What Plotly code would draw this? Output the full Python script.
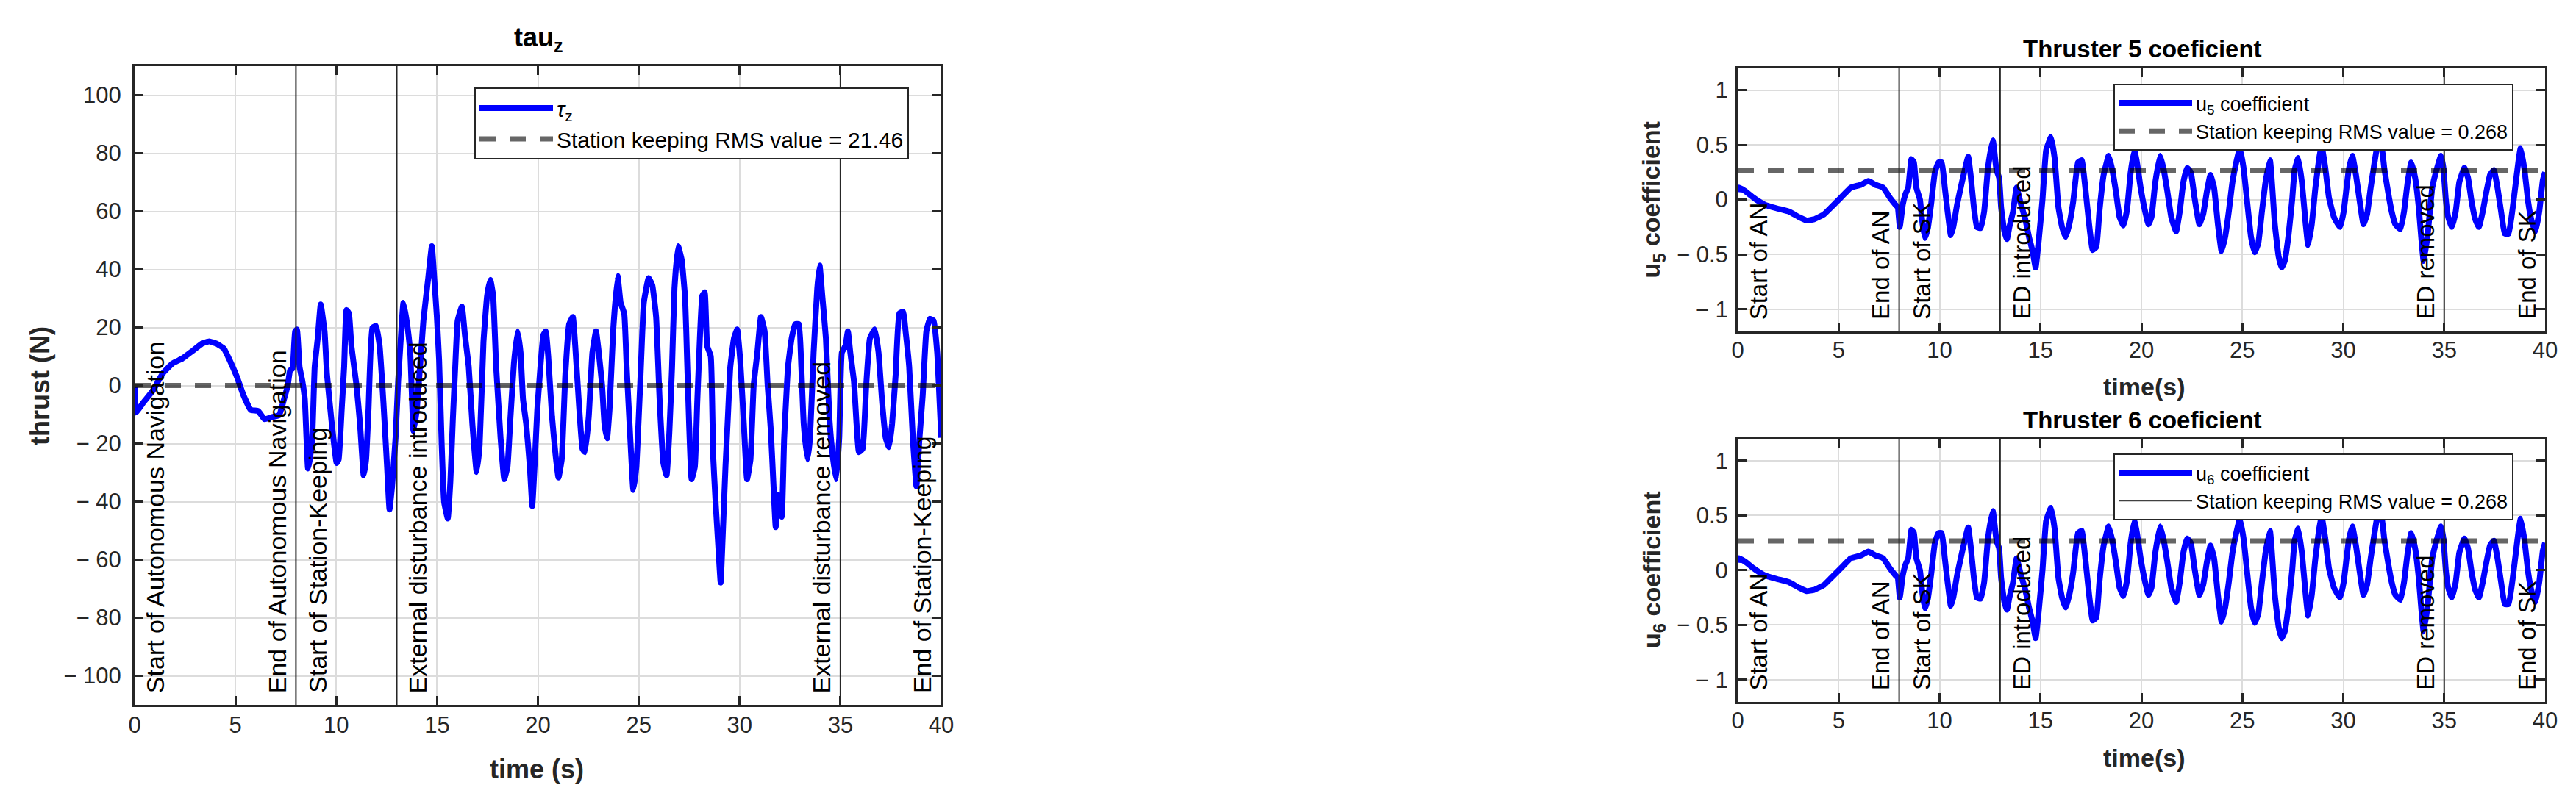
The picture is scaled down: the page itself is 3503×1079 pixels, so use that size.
import plotly.graph_objects as go

# ---------------- data ----------------
tau_t = [0, 0.06, 0.43, 0.91, 1.4, 1.88, 2.37, 2.85, 3.34, 3.7, 4.07, 4.43, 4.79, 5.1, 5.4, 5.76,
         6.13, 6.44, 6.86, 7.17, 7.41, 7.6, 7.71, 7.83, 7.96, 8.05, 8.18, 8.32, 8.44, 8.6, 8.69,
         8.81, 8.93, 9.08, 9.23, 9.42, 9.54, 9.78, 10.02, 10.12, 10.27, 10.39, 10.51, 10.63, 10.75,
         11.0, 11.18, 11.36, 11.48, 11.6, 11.79, 11.97, 12.15, 12.34, 12.52, 12.64, 12.76, 12.94,
         13.07, 13.19, 13.33, 13.49, 13.67, 13.83, 14.0, 14.32, 14.56, 14.74, 14.87, 14.99, 15.1,
         15.23, 15.35, 15.53, 15.66, 15.78, 15.9, 16.02, 16.23, 16.38, 16.57, 16.75, 16.96, 17.11,
         17.3, 17.48, 17.64, 17.78, 17.93, 18.15, 18.33, 18.49, 18.63, 18.81, 18.99, 19.14, 19.26,
         19.42, 19.6, 19.72, 19.85, 19.97, 20.15, 20.27, 20.39, 20.51, 20.7, 20.88, 21.02, 21.18,
         21.36, 21.55, 21.73, 21.85, 22.03, 22.21, 22.33, 22.52, 22.7, 22.88, 23.0, 23.18, 23.3,
         23.43, 23.55, 23.73, 23.95, 24.1, 24.28, 24.4, 24.58, 24.73, 24.88, 25.07, 25.25, 25.49,
         25.67, 25.86, 26.04, 26.22, 26.38, 26.52, 26.65, 26.77, 26.95, 27.13, 27.3, 27.4, 27.5,
         27.62, 27.78, 27.9, 28.03, 28.15, 28.27, 28.39, 28.57, 28.69, 28.81, 28.94, 29.06, 29.18,
         29.3, 29.42, 29.54, 29.72, 29.88, 30.03, 30.21, 30.37, 30.54, 30.7, 30.88, 31.06, 31.24,
         31.39, 31.55, 31.67, 31.79, 31.91, 32.09, 32.21, 32.4, 32.58, 32.76, 32.94, 33.06, 33.18,
         33.37, 33.49, 33.67, 33.85, 33.97, 34.1, 34.28, 34.46, 34.64, 34.79, 34.94, 35.07, 35.25,
         35.37, 35.49, 35.67, 35.8, 35.92, 36.1, 36.28, 36.46, 36.7, 36.89, 37.07, 37.25, 37.41,
         37.56, 37.74, 37.92, 38.11, 38.23, 38.41, 38.59, 38.77, 38.92, 39.08, 39.26, 39.44, 39.62,
         39.8, 39.92, 40.0]
tau_v = [0, -9.3, -5.9, -1.7, 4.2, 7.6, 9.3, 11.8, 14.4, 15.2, 14.4, 12.7, 7.6, 2.5, -3.4, -8.4,
         -8.8, -11.6, -10.8, -10.2, -4.7, 0.2, 5.2, 5.8, 18.6, 19.3, 6.4, 1.5, -4.7, -28.6, -25.5,
         -18, 6.4, 16.2, 27.9, 18.7, 3.9, -13.3, -26.7, -25.5, -8.3, 6.4, 26, 24.8, 13.7,
         0.2, -13.3, -31, -25.5, -8.3, 19.9, 20.5, 13.7, -5.9, -28, -42.7, -35.3, -18.2,
         1.5, 15, 28.5, 22.3, 11.3, -15.7, -8, 22.3, 37, 48, 35.8, 23.6, 8.8,
         -20.6, -40.2, -45.8, -32.9, -12, 6.4, 22.3, 27.2, 17.4, 6.4, -13.3, -29.8, -20.6,
         15, 30.9, 36.4, 30.9, 6.4, -18.2, -32.3, -28, -12, 7.6, 18.7, 11.3, -4.7,
         -13.3, -28, -41.5, -25.5, -8.3, 8.8, 17.4, 18.7, 10.1, -10.8, -24.3, -31.7, -25.5,
         3.9, 21.1, 23.6, 13.7, -5.9, -21.8, -23, -10.8, 11.3, 18.7, 12.5, 0.2, -13.3,
         -18.2, -8.3, 18.7, 37.7, 28.5, 24.8, 6.4, -18.2, -36, -28, 0.2, 28.5, 37,
         34.6, 23.6, -5.9, -26.7, -31, -15.7, 6.4, 33.4, 48, 43.2, 30, 8, -14,
         -32.3, -28, -5.9, 16.2, 30.9, 32.1, 13.7, 10.1, -24.3, -40.2, -55, -67.9, -48.8,
         -28, -10.8, 6.4, 16.2, 19.3, 8.8, -13.3, -32.3, -25.5, 0.2, 11.3, 23.6, 18.7,
         0.2, -15.7, -32.9, -48.8, -37.8, -45.2, -18.2, 6.4, 16.2, 21.1, 21.1, 6.4, -13.3,
         -25.5, -18.2, 11.3, 33.4, 41.3, 30.9, 16.2, -12, -25.5, -32.3, -18.2, 11.3, 13.7,
         18.7, 11.3, 1.5, -13.3, -23, -21.8, 0.2, 16.2, 19.3, 11.3, -5.9, -18.2, -21.2,
         -13.3, 3.9, 24.8, 25.4, 18.7, 6.4, -18.2, -34.7, -18.2, -3.4, 18.7, 23, 22.3,
         11.3, -5.9, -18]

u_t = [0, 0.05, 0.35, 0.84, 1.33, 1.94, 2.55, 3.04, 3.41, 3.78, 4.27, 4.63, 5.12, 5.61, 6.1, 6.47,
       6.83, 7.2, 7.57, 7.81, 7.93, 8.03, 8.18, 8.3, 8.45, 8.61, 8.73, 8.85, 9.03, 9.16, 9.28,
       9.43, 9.58, 9.77, 9.95, 10.11, 10.26, 10.4, 10.56, 10.68, 10.87, 11.11, 11.3, 11.42, 11.54,
       11.7, 11.85, 12.03, 12.21, 12.4, 12.64, 12.82, 12.95, 13.05, 13.21, 13.34, 13.46, 13.64,
       13.82, 14.0, 14.25, 14.43, 14.61, 14.76, 14.91, 15.1, 15.28, 15.52, 15.7, 15.89, 16.07,
       16.25, 16.43, 16.62, 16.86, 17.04, 17.22, 17.41, 17.59, 17.77, 17.92, 18.13, 18.38, 18.56,
       18.74, 18.92, 19.11, 19.29, 19.47, 19.65, 19.78, 19.96, 20.14, 20.35, 20.5, 20.69, 20.93,
       21.11, 21.29, 21.48, 21.72, 21.9, 22.08, 22.27, 22.45, 22.63, 22.87, 23.06, 23.24, 23.42,
       23.6, 23.79, 23.97, 24.15, 24.33, 24.51, 24.7, 24.88, 25.06, 25.24, 25.43, 25.61, 25.79,
       25.97, 26.15, 26.37, 26.61, 26.8, 26.95, 27.1, 27.28, 27.47, 27.59, 27.77, 27.95, 28.14,
       28.26, 28.44, 28.62, 28.81, 28.93, 29.11, 29.29, 29.54, 29.84, 30.02, 30.27, 30.45, 30.63,
       30.82, 31.0, 31.18, 31.36, 31.55, 31.73, 31.91, 32.03, 32.22, 32.4, 32.58, 32.83, 33.01,
       33.19, 33.37, 33.56, 33.74, 33.86, 33.98, 34.17, 34.41, 34.65, 34.84, 34.96, 35.08, 35.2,
       35.38, 35.57, 35.75, 36.0, 36.18, 36.36, 36.54, 36.72, 36.91, 37.09, 37.27, 37.46, 37.64,
       37.82, 38.0, 38.19, 38.37, 38.55, 38.7, 38.79, 38.98, 39.16, 39.34, 39.53, 39.71, 39.89,
       40.0]
u5_v = [0.07, 0.11, 0.08, 0.01, -0.045, -0.08, -0.11, -0.16, -0.19, -0.18, -0.135, -0.07, 0.02,
        0.11, 0.135, 0.17, 0.135, 0.11, 0.01, -0.045, -0.07, -0.25, -0.045, 0.045, 0.11, 0.37,
        0.34, 0.11, 0.0, -0.225, -0.35, -0.25, -0.045, 0.25, 0.34, 0.34, 0.11, -0.11, -0.325,
        -0.25, -0.045, 0.16, 0.31, 0.39, 0.225, -0.07, -0.25, -0.26, -0.11, 0.29, 0.54, 0.27,
        0.2, -0.07, -0.29, -0.36, -0.25, -0.11, 0.11, -0.02, -0.18, -0.34, -0.47, -0.62, -0.38,
        0.0, 0.45, 0.57, 0.38, -0.07, -0.25, -0.34, -0.225, -0.02, 0.34, 0.36, 0.11, -0.225,
        -0.46, -0.43, -0.11, 0.225, 0.4, 0.27, 0.07, -0.16, -0.235, -0.09, 0.25, 0.45, 0.34,
        0.11, -0.07, -0.225, -0.16, 0.16, 0.4, 0.27, 0.07, -0.16, -0.29, -0.11, 0.16, 0.29,
        0.25, 0.02, -0.225, -0.135, 0.07, 0.225, 0.11, -0.225, -0.47, -0.34, -0.11, 0.16, 0.34,
        0.47, 0.29, -0.02, -0.34, -0.48, -0.4, -0.11, 0.16, 0.36, -0.225, -0.52, -0.62, -0.56,
        -0.34, 0.0, 0.27, 0.38, 0.16, -0.225, -0.415, -0.225, 0.11, 0.38, 0.49, 0.29, 0.02,
        -0.16, -0.25, -0.11, 0.27, 0.4, 0.225, -0.02, -0.225, -0.135, 0.11, 0.34, 0.52, 0.47,
        0.29, 0.07, -0.11, -0.225, -0.27, -0.11, 0.16, 0.34, 0.2, -0.07, -0.34, -0.56, -0.34,
        0.11, 0.29, 0.4, 0.29, 0.0, -0.16, -0.25, -0.11, 0.16, 0.29, 0.2, -0.02, -0.18, -0.25,
        -0.11, 0.07, 0.225, 0.27, 0.11, -0.11, -0.31, -0.31, -0.11, 0.16, 0.38, 0.47, 0.27,
        -0.02, -0.2, -0.29, -0.11, 0.18, 0.25]
u6_v = list(u5_v)  # the thruster 6 curve in the reference is drawn identical to thruster 5

event_times = [8, 13, 35]
tau_rms_line = 0.0
tau_rms_text = "21.46"
u_rms = 0.268

left_notes = ["Start of Autonomous Navigation", "End of Autonomous Navigation",
              "Start of Station-Keeping", "External disturbance introduced",
              "External disturbance removed", "End of Station-Keeping"]
left_note_x = [1.02, 7.06, 9.08, 14.05, 34.07, 39.05]
right_notes = ["Start of AN", "End of AN", "Start of SK", "ED introduced", "ED removed", "End of SK"]
right_note_x = [1.03, 7.08, 9.1, 14.1, 34.1, 39.1]

x_ticks = [0, 5, 10, 15, 20, 25, 30, 35, 40]
tau_ticks = [-100, -80, -60, -40, -20, 0, 20, 40, 60, 80, 100]
u_ticks = [-1, -0.5, 0, 0.5, 1]

# ---------------- figure ----------------
W, H = 3503, 1079
FONT = "Liberation Sans, Arial, Helvetica, sans-serif"
AX = "#262626"
BLUE = "#0000ff"
RMS_COL = "rgba(0,0,0,0.6)"


def fmt(v):
    s = ("%g" % abs(v))
    return ("\u2212 " + s) if v < 0 else s


def px_x(p):
    return p / W


def px_y(p):
    return (H - p) / H


fig = go.Figure()

line_main = dict(color=BLUE, width=8, shape="spline", smoothing=0.35)

# left: tau_z
fig.add_trace(go.Scatter(x=tau_t, y=tau_v, mode="lines", name="<i>τ</i><sub>z</sub>",
                         line=line_main, xaxis="x", yaxis="y", legend="legend"))
fig.add_trace(go.Scatter(x=[0, 40], y=[tau_rms_line, tau_rms_line], mode="lines",
                         name="Station keeping RMS value = " + tau_rms_text,
                         line=dict(color=RMS_COL, width=7, dash="22px,19px"),
                         xaxis="x", yaxis="y", legend="legend"))
# top right: u5
fig.add_trace(go.Scatter(x=u_t, y=u5_v, mode="lines", name="u<sub>5</sub> coefficient",
                         line=line_main, xaxis="x2", yaxis="y2", legend="legend2"))
fig.add_trace(go.Scatter(x=[0, 40], y=[u_rms, u_rms], mode="lines",
                         name="Station keeping RMS value = %g" % u_rms,
                         line=dict(color=RMS_COL, width=7, dash="22px,19px"),
                         xaxis="x2", yaxis="y2", legend="legend2"))
# bottom right: u6
fig.add_trace(go.Scatter(x=u_t, y=u6_v, mode="lines", name="u<sub>6</sub> coefficient",
                         line=line_main, xaxis="x3", yaxis="y3", legend="legend3"))
fig.add_trace(go.Scatter(x=[0, 40], y=[u_rms, u_rms], mode="lines", showlegend=False,
                         line=dict(color=RMS_COL, width=7, dash="22px,19px"),
                         xaxis="x3", yaxis="y3"))
fig.add_trace(go.Scatter(x=[None], y=[None], mode="lines",
                         name="Station keeping RMS value = %g" % u_rms,
                         line=dict(color="#404040", width=2),
                         xaxis="x3", yaxis="y3", legend="legend3"))

common_axis = dict(showline=True, linecolor=AX, linewidth=3, mirror="ticks",
                   ticks="inside", ticklen=12, tickwidth=3, tickcolor=AX,
                   showgrid=True, gridcolor="#dcdcdc", gridwidth=2, zeroline=False,
                   automargin=False,
                   tickfont=dict(family=FONT, size=31, color=AX))

xd_left = [px_x(175), px_x(1272)]
xd_right = [px_x(2355), px_x(3453)]

fig.update_layout(
    width=W, height=H, margin=dict(l=0, r=0, t=0, b=0, pad=0),
    paper_bgcolor="white", plot_bgcolor="white",
    font=dict(family=FONT, color=AX),
    xaxis=dict(domain=xd_left, range=[0, 40], tickvals=x_ticks, ticktext=[fmt(v) for v in x_ticks],
               anchor="y", ticklabelstandoff=-2, **common_axis),
    yaxis=dict(domain=[px_y(951), px_y(82)], range=[-110, 110], tickvals=tau_ticks,
               ticktext=[fmt(v) for v in tau_ticks], anchor="x", ticklabelstandoff=9, **common_axis),
    xaxis2=dict(domain=xd_right, range=[0, 40], tickvals=x_ticks, ticktext=[fmt(v) for v in x_ticks],
                anchor="y2", ticklabelstandoff=-4, **common_axis),
    yaxis2=dict(domain=[px_y(442.5), px_y(84.7)], range=[-1.2, 1.2], tickvals=u_ticks,
                ticktext=[fmt(v) for v in u_ticks], anchor="x2", ticklabelstandoff=4, **common_axis),
    xaxis3=dict(domain=xd_right, range=[0, 40], tickvals=x_ticks, ticktext=[fmt(v) for v in x_ticks],
                anchor="y3", ticklabelstandoff=-4, **common_axis),
    yaxis3=dict(domain=[px_y(946.7), px_y(589)], range=[-1.2, 1.2], tickvals=u_ticks,
                ticktext=[fmt(v) for v in u_ticks], anchor="x3", ticklabelstandoff=4, **common_axis),
    legend=dict(x=px_x(637), y=px_y(111), xanchor="left", yanchor="top", bgcolor="white",
                bordercolor=AX, borderwidth=2, itemwidth=100,
                font=dict(family=FONT, size=30, color="black")),
    legend2=dict(x=px_x(2866), y=px_y(106), xanchor="left", yanchor="top", bgcolor="white",
                 bordercolor=AX, borderwidth=2, itemwidth=100,
                 font=dict(family=FONT, size=27, color="black")),
    legend3=dict(x=px_x(2866), y=px_y(609), xanchor="left", yanchor="top", bgcolor="white",
                 bordercolor=AX, borderwidth=2, itemwidth=100,
                 font=dict(family=FONT, size=27, color="black")),
)

shapes = []
for xr, yr in [("x", "y domain"), ("x2", "y2 domain"), ("x3", "y3 domain")]:
    for t in event_times:
        shapes.append(dict(type="line", xref=xr, yref=yr, x0=t, x1=t, y0=0, y1=1,
                           line=dict(color=AX, width=2), layer="above"))
fig.update_layout(shapes=shapes)

ann = []
for txt, xv in zip(left_notes, left_note_x):
    ann.append(dict(x=xv, y=-106.5, xref="x", yref="y", text=txt, textangle=-90, showarrow=False,
                    xanchor="center", yanchor="bottom", font=dict(family=FONT, size=34, color="black")))
for xr, yr in [("x2", "y2"), ("x3", "y3")]:
    for txt, xv in zip(right_notes, right_note_x):
        ann.append(dict(x=xv, y=-1.11, xref=xr, yref=yr, text=txt, textangle=-90, showarrow=False,
                        xanchor="center", yanchor="bottom", font=dict(family=FONT, size=33, color="black")))

def paper_text(txt, xp, yp, size, angle=0, color="black"):
    return dict(x=px_x(xp), y=px_y(yp), xref="paper", yref="paper", text=txt, showarrow=False,
                textangle=angle, xanchor="center", yanchor="middle",
                font=dict(family=FONT, size=size, color=color))

ann += [
    paper_text("<b>tau<sub>z</sub></b>", 724, 45, 36),
    paper_text("<b>time (s)</b>", 722, 1038, 36, color=AX),
    paper_text("<b>thrust (N)</b>", 47, 517, 36, angle=-90, color=AX),
    paper_text("<b>Thruster 5 coeficient</b>", 2905, 59, 33),
    paper_text("<b>Thruster 6 coeficient</b>", 2905, 563, 33),
    paper_text("<b>time(s)</b>", 2907, 518, 34, color=AX),
    paper_text("<b>time(s)</b>", 2907, 1023, 34, color=AX),
    paper_text("<b>u<sub>5</sub> coefficient</b>", 2240, 263.6, 34, angle=-90, color=AX),
    paper_text("<b>u<sub>6</sub> coefficient</b>", 2240, 767, 34, angle=-90, color=AX),
]
fig.update_layout(annotations=ann)

fig.write_html("out.html")
